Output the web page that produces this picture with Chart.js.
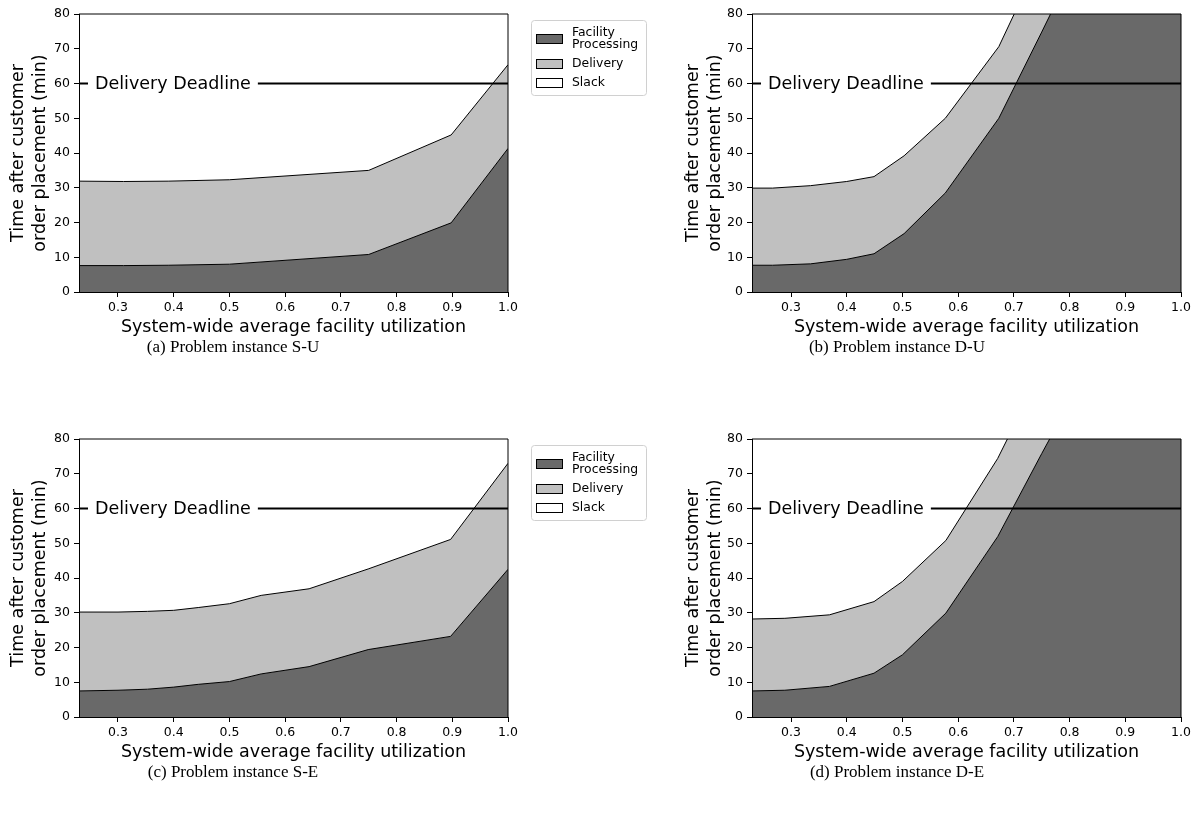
<!DOCTYPE html>
<html><head><meta charset="utf-8">
<script src="https://cdn.jsdelivr.net/npm/chart.js@4.4.1/dist/chart.umd.min.js"></script>
<style>
html,body{margin:0;padding:0;background:#fff;width:1197px;height:815px;overflow:hidden;position:relative}
canvas{position:absolute;display:block}
.cap{position:absolute;font-family:"Liberation Serif","DejaVu Serif",serif;font-size:17px;color:#000;white-space:nowrap;transform:translate(-50%,-50%)}
</style></head><body>
<canvas id="cA" width="660" height="345" style="left:0;top:0"></canvas>
<canvas id="cB" width="537" height="345" style="left:660px;top:0"></canvas>
<canvas id="cC" width="660" height="345" style="left:0;top:425px"></canvas>
<canvas id="cD" width="537" height="345" style="left:660px;top:425px"></canvas>
<div class="cap" style="left:233px;top:347px">(a) Problem instance S-U</div>
<div class="cap" style="left:897px;top:347px">(b) Problem instance D-U</div>
<div class="cap" style="left:233px;top:772px">(c) Problem instance S-E</div>
<div class="cap" style="left:897px;top:772px">(d) Problem instance D-E</div>
<script>
// ---- data ----
const xMin = 0.23, xMax = 1.0, yMin = 0, yMax = 80;
const xTicks = [0.3, 0.4, 0.5, 0.6, 0.7, 0.8, 0.9, 1.0];
const yTicks = [0, 10, 20, 30, 40, 50, 60, 70, 80];
const deadline = 60;
const deadlineText = 'Delivery Deadline';
const seriesNames = ['Facility Processing', 'Delivery', 'Slack'];
const legendLabels = [['Facility', 'Processing'], ['Delivery'], ['Slack']];
const xTitle = 'System-wide average facility utilization';
const yTitle = ['Time after customer', 'order placement (min)'];

// (a) S-U
const xSU     = [0.23, 0.31, 0.39, 0.5, 0.75, 0.898, 1.0];
const procSU  = [7.6, 7.6, 7.7, 8.0, 10.8, 19.9, 41.3];
const totalSU = [31.9, 31.8, 31.9, 32.3, 35.0, 45.2, 65.4];
// (b) D-U
const xDU     = [0.23, 0.267, 0.335, 0.4, 0.449, 0.503, 0.577, 0.673, 0.75, 0.9, 1.0];
const procDU  = [7.7, 7.7, 8.1, 9.4, 11.0, 16.8, 28.5, 50.0, 74.8, 124, 170];
const totalDU = [29.9, 29.9, 30.6, 31.8, 33.2, 39.2, 50.0, 70.6, 96.8, 150, 200];
// (c) S-E
const xSE     = [0.23, 0.3, 0.353, 0.4, 0.444, 0.5, 0.557, 0.643, 0.749, 0.897, 1.0];
const procSE  = [7.5, 7.7, 8.0, 8.6, 9.4, 10.2, 12.4, 14.5, 19.4, 23.2, 42.5];
const totalSE = [30.2, 30.2, 30.4, 30.7, 31.5, 32.6, 35.0, 36.9, 42.6, 51.1, 73.0];
// (d) D-E
const xDE     = [0.23, 0.289, 0.369, 0.449, 0.5, 0.578, 0.671, 0.75, 0.9, 1.0];
const procDE  = [7.5, 7.7, 8.8, 12.6, 17.9, 29.9, 51.9, 75.8, 120, 165];
const totalDE = [28.2, 28.4, 29.4, 33.2, 39.0, 50.8, 74.4, 99.8, 150, 200];

const COLORS = { proc: '#696969', deliv: '#c0c0c0', slack: '#ffffff', line: '#000000' };
const FONT = '"DejaVu Sans", sans-serif';
Chart.defaults.font.family = FONT;
Chart.defaults.color = '#000';

const framePlugin = {
  id: 'frame',
  afterDatasetsDraw(chart) {
    const { ctx, chartArea: a } = chart;
    ctx.save();
    ctx.strokeStyle = '#000'; ctx.lineWidth = 1;
    ctx.beginPath();
    ctx.moveTo(a.left, a.top); ctx.lineTo(a.right, a.top); ctx.lineTo(a.right, a.bottom);
    ctx.stroke();
    ctx.restore();
  }
};

const deadlinePlugin = {
  id: 'deadlineLabel',
  afterDatasetsDraw(chart) {
    const { ctx, chartArea: a, scales } = chart;
    const py = scales.y.getPixelForValue(deadline);
    ctx.save();
    ctx.font = '17.5px ' + FONT;
    const tw = ctx.measureText(deadlineText).width;
    const bx = a.left + 9;
    ctx.fillStyle = '#fff';
    ctx.fillRect(bx, py - 13, tw + 14, 26);
    ctx.fillStyle = '#000';
    ctx.textBaseline = 'middle';
    ctx.fillText(deadlineText, bx + 7, py + 1);
    ctx.restore();
  }
};

const legendPlugin = {
  id: 'sideLegend',
  afterDraw(chart) {
    const { ctx, chartArea: a } = chart;
    const fills = [COLORS.proc, COLORS.deliv, COLORS.slack];
    const bx = a.right + 23, by = a.top + 6, bw = 115, bh = 75;
    ctx.save();
    ctx.fillStyle = 'rgba(255,255,255,0.8)';
    ctx.strokeStyle = '#d0d0d0'; ctx.lineWidth = 1;
    ctx.beginPath();
    ctx.roundRect(bx + 0.5, by + 0.5, bw, bh, 3);
    ctx.fill(); ctx.stroke();
    const centers = [a.top + 25, a.top + 50, a.top + 69];
    ctx.font = '12.4px ' + FONT;
    ctx.textBaseline = 'middle';
    legendLabels.forEach((lines, i) => {
      const cy = centers[i];
      ctx.fillStyle = fills[i];
      ctx.fillRect(bx + 5, cy - 4.5, 26, 9);
      ctx.strokeStyle = '#000';
      ctx.strokeRect(bx + 5.5, cy - 4.5, 26, 9);
      ctx.fillStyle = '#000';
      const lh = 12.5;
      const y0 = cy - (lines.length - 1) * lh / 2;
      lines.forEach((t, j) => ctx.fillText(t, bx + 41, y0 + j * lh));
    });
    ctx.restore();
  }
};

function makePanel(id, xs, proc, total, cfg) {
  const pts = arr => xs.map((x, i) => ({ x: x, y: arr[i] }));
  const plugins = [framePlugin, deadlinePlugin];
  if (cfg.legend) plugins.push(legendPlugin);
  new Chart(document.getElementById(id), {
    type: 'line',
    data: {
      datasets: [
        { label: seriesNames[0], data: pts(proc), borderColor: COLORS.line, borderWidth: 1,
          backgroundColor: COLORS.proc, fill: 'origin', pointRadius: 0, tension: 0, clip: 0 },
        { label: seriesNames[1], data: pts(total), borderColor: COLORS.line, borderWidth: 1,
          backgroundColor: COLORS.deliv, fill: '-1', pointRadius: 0, tension: 0, clip: 0 },
        { label: deadlineText, data: [{ x: xMin, y: deadline }, { x: xMax, y: deadline }],
          borderColor: COLORS.line, borderWidth: 2, fill: false, pointRadius: 0, order: -1, clip: 0 }
      ]
    },
    options: {
      responsive: false, animation: false, events: [],
      layout: { padding: { left: 0, top: cfg.padTop, right: cfg.padRight, bottom: 0 } },
      plugins: { legend: { display: false }, tooltip: { enabled: false } },
      scales: {
        x: {
          type: 'linear', min: xMin, max: xMax,
          afterBuildTicks: s => { s.ticks = xTicks.map(v => ({ value: v })); },
          afterFit: s => { s.height = cfg.xH; },
          ticks: { font: { size: 12.5 }, color: '#000', padding: 3, autoSkip: false, maxRotation: 0,
                   callback: v => Number(v).toFixed(1) },
          grid: { drawOnChartArea: false, drawTicks: true, tickLength: 5, color: '#000', z: 1 },
          border: { display: true, color: '#000', width: 1, z: 1 },
          title: { display: true, text: xTitle, font: { size: 17.5 }, color: '#000', padding: { top: 0, bottom: 7.5 } }
        },
        y: {
          type: 'linear', min: yMin, max: yMax,
          afterBuildTicks: s => { s.ticks = yTicks.map(v => ({ value: v })); },
          afterFit: s => { s.width = cfg.yW; },
          ticks: { font: { size: 12.5 }, color: '#000', padding: 4, autoSkip: false },
          grid: { drawOnChartArea: false, drawTicks: true, tickLength: 5, color: '#000', z: 1 },
          border: { display: true, color: '#000', width: 1, z: 1 },
          title: { display: true, text: yTitle, font: { size: 17.5, lineHeight: 1.25 }, color: '#000',
                   padding: { top: cfg.yTitlePad, bottom: 0 } }
        }
      }
    },
    plugins: plugins
  });
}

const leftCfg  = { padTop: 14, padRight: 152, xH: 53, yW: 79, yTitlePad: 8,  legend: true };
const rightCfg = { padTop: 14, padRight: 16,  xH: 53, yW: 92, yTitlePad: 23, legend: false };
makePanel('cA', xSU, procSU, totalSU, leftCfg);
makePanel('cB', xDU, procDU, totalDU, rightCfg);
makePanel('cC', xSE, procSE, totalSE, leftCfg);
makePanel('cD', xDE, procDE, totalDE, rightCfg);
</script>
</body></html>
